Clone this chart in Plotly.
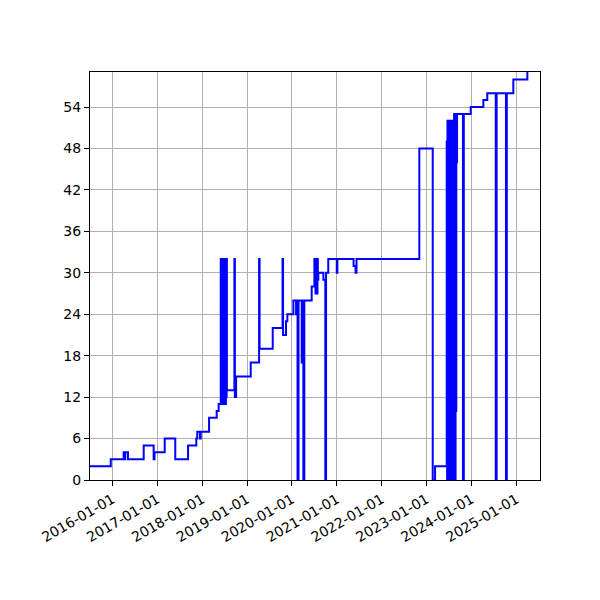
import plotly.graph_objects as go

# --------------------------
# DATA (steps-post)
# --------------------------
early_dates = ["2015-06-01", "2015-12-19", "2016-04-02", "2016-04-11", "2016-04-15",
               "2016-05-07", "2016-09-12", "2016-12-02", "2016-12-09", "2017-03-02",
               "2017-05-27", "2017-09-08", "2017-11-14", "2017-11-22", "2017-12-14",
               "2017-12-20", "2018-02-26", "2018-04-29", "2018-05-15"]
early_vals = [2, 3, 4, 3, 4, 3, 5, 3, 4, 6, 3, 5, 6, 7, 6, 7, 9, 10, 11]

# dense burst mid 2018
burst1_dates = ["2018-06-01", "2018-06-04", "2018-06-07", "2018-06-10", "2018-06-13",
                "2018-06-16", "2018-06-19", "2018-06-22", "2018-06-25", "2018-06-28",
                "2018-07-01", "2018-07-04", "2018-07-07", "2018-07-10", "2018-07-13",
                "2018-07-16", "2018-07-19"]
burst1_vals = [32, 11, 32, 12, 32, 11, 32, 12, 32, 11, 32, 12, 32, 11, 32, 12, 32]

mid_dates = ["2018-07-21", "2018-09-20", "2018-09-24", "2018-10-04", "2019-01-31",
             "2019-04-09", "2019-04-13", "2019-07-29", "2019-10-17", "2019-10-21",
             "2019-11-14", "2019-11-25", "2020-01-13", "2020-02-04", "2020-02-10",
             "2020-02-16", "2020-02-24", "2020-03-21", "2020-03-26", "2020-04-03",
             "2020-04-11", "2020-06-10"]
mid_vals = [13, 32, 12, 15, 17, 32, 19, 22, 32, 21, 23, 24, 26, 24, 26, 0, 26, 17, 26, 0, 26, 28]

# burst summer 2020
burst2_dates = ["2020-07-02", "2020-07-05", "2020-07-08", "2020-07-11", "2020-07-14",
                "2020-07-17", "2020-07-20", "2020-07-23", "2020-07-27", "2020-07-30"]
burst2_vals = [32, 28, 32, 27, 32, 28, 32, 27, 32, 29]

late_dates = ["2020-08-03", "2020-09-13", "2020-09-29", "2020-10-05", "2020-10-23",
              "2020-12-31", "2021-01-05", "2021-05-17", "2021-06-02", "2021-06-10",
              "2022-11-03", "2023-02-20", "2023-03-11"]
late_vals = [30, 29, 0, 30, 32, 30, 32, 31, 30, 32, 48, 0, 2]

# burst summer 2023
burst3_dates = ["2023-06-14", "2023-06-17", "2023-06-20", "2023-06-23", "2023-06-26",
                "2023-06-29", "2023-07-02", "2023-07-05", "2023-07-08", "2023-07-11",
                "2023-07-14", "2023-07-17", "2023-07-20", "2023-07-23", "2023-07-26",
                "2023-07-29", "2023-08-01", "2023-08-04", "2023-08-07", "2023-08-10",
                "2023-08-13", "2023-08-16", "2023-08-19", "2023-08-22", "2023-08-25",
                "2023-08-28", "2023-08-31", "2023-09-03", "2023-09-06"]
burst3_vals = [49, 0, 52, 0, 52, 0, 52, 0, 52, 0, 52, 0, 52, 0, 52,
               0, 52, 0, 52, 0, 53, 0, 53, 0, 53, 10, 53, 46, 53]

end_dates = ["2023-10-24", "2023-10-31", "2023-12-26", "2024-04-07", "2024-05-09",
             "2024-07-17", "2024-07-24", "2024-10-08", "2024-10-15", "2024-12-07",
             "2025-03-31", "2025-09-01"]
end_vals = [0, 53, 54, 55, 56, 0, 56, 0, 56, 58, 60, 60]

dates = early_dates + burst1_dates + mid_dates + burst2_dates + late_dates + burst3_dates + end_dates
values = early_vals + burst1_vals + mid_vals + burst2_vals + late_vals + burst3_vals + end_vals

y_ticks = [0, 6, 12, 18, 24, 30, 36, 42, 48, 54]
x_ticks = ["%d-01-01" % y for y in range(2016, 2026)]

# --------------------------
# FIGURE
# --------------------------
fig = go.Figure()
fig.add_trace(go.Scatter(x=dates, y=values, mode="lines",
                         line=dict(color="#0000ff", width=2, shape="hv")))

axis_style = dict(showline=True, linecolor="black", linewidth=1, mirror=True,
                  showgrid=True, gridcolor="#b0b0b0", gridwidth=1,
                  ticks="outside", ticklen=5, tickwidth=1, tickcolor="black",
                  zeroline=False)

fig.update_xaxes(range=["2015-07-03", "2025-07-12"], tickvals=x_ticks, ticktext=x_ticks,
                 tickangle=-30, **axis_style)
fig.update_yaxes(range=[0, 59.07], tickvals=y_ticks, **axis_style)

# page body adds 8px, so margins are shifted to land the axes box at 90..540 / 72..480
fig.update_layout(width=600, height=600, showlegend=False,
                  margin=dict(l=82, r=68, t=64, b=128),
                  paper_bgcolor="white", plot_bgcolor="white",
                  font=dict(family="DejaVu Sans", size=14, color="black"))

fig.write_html("out.html")
